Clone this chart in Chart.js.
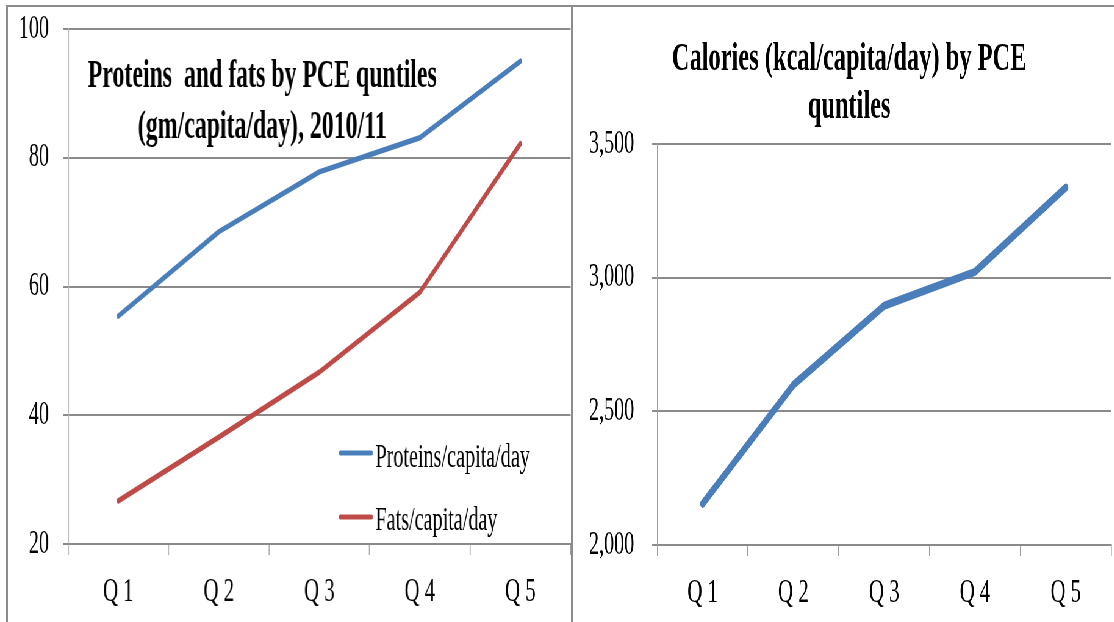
<!DOCTYPE html>
<html>
<head>
<meta charset="utf-8">
<script src="https://cdn.jsdelivr.net/npm/chart.js@4/dist/chart.umd.min.js"></script>
<style>
  html, body { margin: 0; padding: 0; background: #fff; overflow: hidden; }
  body { width: 1114px; height: 622px; position: relative; }
  /* the charts are laid out wide and squeezed horizontally, giving the narrow serif look */
  #stage { position: absolute; left: 0; top: 0; height: 622px; transform-origin: 0 0; }
  .panel { position: absolute; top: 0; height: 622px; }
  .rule { position: absolute; background: #8c8c8c; }
</style>
</head>
<body>
<div id="stage">
  <div class="panel" id="leftPanel"><canvas id="nutrients"></canvas></div>
  <div class="panel" id="rightPanel"><canvas id="calories"></canvas></div>
</div>
<div class="rule" style="left:6px; top:5px; width:1108px; height:2px;"></div>
<div class="rule" style="left:6px; top:5px; width:2px; height:617px;"></div>
<div class="rule" style="left:571px; top:5px; width:2px; height:617px;"></div>
<script>
// ---- data ----
const quintiles = ['Q 1', 'Q 2', 'Q 3', 'Q 4', 'Q 5'];
const proteins = [55.4, 68.5, 77.8, 83.1, 95.0];     // gm/capita/day
const fats = [26.7, 36.6, 46.7, 59.1, 82.2];         // gm/capita/day
const calories = [2154, 2599, 2895, 3022, 3337];     // kcal/capita/day
const nutrientTicks = [20, 40, 60, 80, 100];
const calorieTicks = [2000, 2500, 3000, 3500];
const nutrientTitle = ['Proteins  and fats by PCE quntiles', '(gm/capita/day), 2010/11'];
const calorieTitle = ['Calories (kcal/capita/day) by PCE', 'quntiles'];
const seriesNames = ['Proteins/capita/day', 'Fats/capita/day', 'Calories'];

// ---- layout ----
const SQUEEZE = 0.61;                 // horizontal compression of the whole figure
const W = 1114, H = 622;
const u = v => v / SQUEEZE;           // screen x -> stage x
const stage = document.getElementById('stage');
stage.style.width = u(W) + 'px';
stage.style.transform = 'scaleX(' + SQUEEZE + ')';
const leftPanel = document.getElementById('leftPanel');
const rightPanel = document.getElementById('rightPanel');
leftPanel.style.left = '0px';
leftPanel.style.width = u(572) + 'px';
rightPanel.style.left = u(572) + 'px';
rightPanel.style.width = u(W - 572) + 'px';

const BLUE = '#4A7EBB';
const RED = '#BE4B48';
const GRID = '#8a8a8a';
const AXIS = '#a0a0a0';
const FONT = 'Liberation Serif, Times New Roman, serif';

// titles and legend drawn inside each panel
const panelText = {
  id: 'panelText',
  afterDraw(chart, args, opts) {
    const ctx = chart.ctx;
    ctx.save();
    if (opts.title) {
      ctx.fillStyle = '#000';
      ctx.font = 'bold ' + opts.title.size + 'px ' + FONT;
      ctx.textAlign = 'center';
      ctx.textBaseline = 'alphabetic';
      opts.title.lines.forEach((t, i) => {
        ctx.fillText(t, opts.title.x, opts.title.baselines[i]);
      });
    }
    if (opts.legend) {
      const L = opts.legend;
      ctx.font = L.size + 'px ' + FONT;
      ctx.textAlign = 'left';
      ctx.textBaseline = 'alphabetic';
      chart.data.datasets.forEach((ds, i) => {
        const yc = L.rows[i];
        ctx.lineCap = 'round';
        ctx.strokeStyle = 'rgba(255,255,255,0.9)';
        ctx.lineWidth = L.swatchWidth + 2;
        ctx.beginPath(); ctx.moveTo(L.x0, yc); ctx.lineTo(L.x1, yc); ctx.stroke();
        ctx.strokeStyle = ds.borderColor;
        ctx.lineWidth = L.swatchWidth;
        ctx.beginPath(); ctx.moveTo(L.x0, yc); ctx.lineTo(L.x1, yc); ctx.stroke();
        ctx.fillStyle = '#000';
        ctx.fillText(ds.label, L.textX, L.textBase[i]);
      });
    }
    ctx.restore();
  }
};

function lineDataset(label, data, color, width) {
  return {
    label, data,
    borderColor: color, backgroundColor: color,
    borderWidth: width,
    borderCapStyle: 'round', borderJoinStyle: 'round',
    pointRadius: 0, pointHoverRadius: 0,
    tension: 0, fill: false
  };
}

function makeScales(ticks, yWidth, xHeight, yPad, yTickLen, fmt) {
  return {
    x: {
      type: 'category',
      offset: true,
      afterFit(s) { s.height = xHeight; s.paddingLeft = 0; s.paddingRight = 0; },
      grid: { display: true, drawOnChartArea: false, drawTicks: true, tickLength: 11, color: AXIS, lineWidth: 1.6, offset: true },
      border: { display: true, color: GRID, width: 2 },
      ticks: { color: '#000', font: { family: FONT, size: 34 }, padding: 17, maxRotation: 0, autoSkip: false }
    },
    y: {
      min: ticks[0], max: ticks[ticks.length - 1],
      afterFit(s) { s.width = yWidth; s.paddingTop = 0; s.paddingBottom = 0; },
      afterBuildTicks(s) { s.ticks = ticks.map(v => ({ value: v })); },
      grid: { color: GRID, lineWidth: 2, tickLength: yTickLen, drawTicks: true },
      border: { display: true, color: AXIS, width: 1.6 },
      ticks: { color: '#000', font: { family: FONT, size: 33 }, padding: yPad, callback: fmt }
    }
  };
}

Chart.defaults.animation = false;

// left panel: proteins and fats
new Chart(document.getElementById('nutrients'), {
  type: 'line',
  data: {
    labels: quintiles,
    datasets: [
      lineDataset(seriesNames[0], proteins, BLUE, 5.5),
      lineDataset(seriesNames[1], fats, RED, 5.5)
    ]
  },
  options: {
    responsive: true, maintainAspectRatio: false, animation: false,
    layout: { padding: { top: 29, right: u(2), bottom: 0, left: 0 } },
    scales: makeScales(nutrientTicks, u(68), H - 544, u(14), u(5), v => String(v)),
    plugins: {
      legend: { display: false },
      tooltip: { enabled: false },
      panelText: {
        title: { lines: nutrientTitle, size: 39, x: u(262), baselines: [87, 138] },
        legend: { x0: u(340), x1: u(371), textX: u(375), rows: [453, 517], textBase: [467, 530], size: 33, swatchWidth: 5 }
      }
    }
  },
  plugins: [panelText]
});

// right panel: calories
new Chart(document.getElementById('calories'), {
  type: 'line',
  data: {
    labels: quintiles,
    datasets: [ lineDataset(seriesNames[2], calories, BLUE, 8) ]
  },
  options: {
    responsive: true, maintainAspectRatio: false, animation: false,
    layout: { padding: { top: 144, right: u(3), bottom: 0, left: 0 } },
    scales: makeScales(calorieTicks, u(657 - 572), H - 545, u(18), u(5), v => Number(v).toLocaleString('en-US')),
    plugins: {
      legend: { display: false },
      tooltip: { enabled: false },
      panelText: {
        title: { lines: calorieTitle, size: 40, x: u(849 - 572), baselines: [70, 118] }
      }
    }
  },
  plugins: [panelText]
});
</script>
</body>
</html>
